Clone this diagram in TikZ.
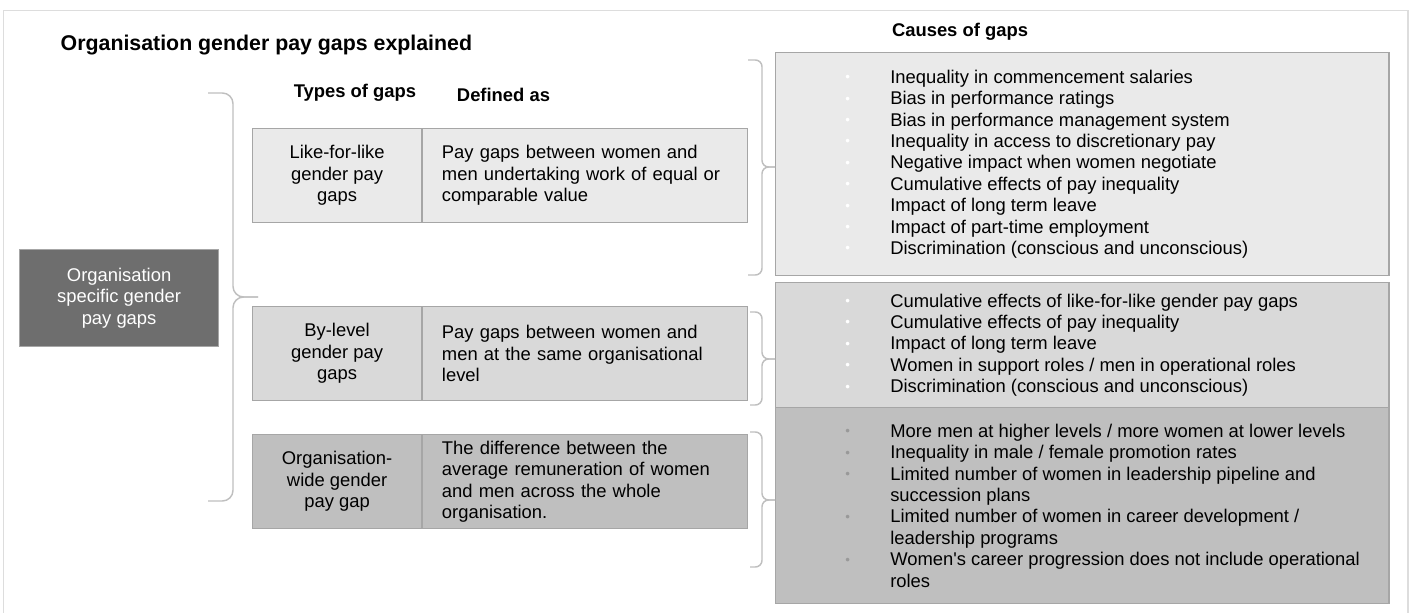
\documentclass[tikz,border=0pt]{standalone}
\usepackage{fontspec}
\setmainfont{Liberation Sans}[Ligatures=TeXOff]
\usepackage{xcolor}
\usetikzlibrary{positioning}
\definecolor{shadeA}{HTML}{EAEAEA}
\definecolor{shadeB}{HTML}{D9D9D9}
\definecolor{shadeC}{HTML}{BFBFBF}
\definecolor{darkgrey}{HTML}{6E6E6E}
\definecolor{edgegrey}{HTML}{A6A6A6}
\definecolor{bracegrey}{HTML}{BFBFBF}
\definecolor{framegrey}{HTML}{DDDDDD}
\definecolor{dotgrey}{HTML}{999999}
% bullet line and wrapped continuation line of a cause list
\newcommand{\cause}[2]{\makebox[33.75pt][l]{\raisebox{1.2pt}{\textcolor{#1}{\fontsize{10}{10}\selectfont\textbullet}}}#2}
\newcommand{\causecont}[1]{\hspace*{33.75pt}#1}

\begin{document}
\begin{tikzpicture}[
        x=0.75pt, y=-0.75pt,
        base/.style={rectangle, draw=edgegrey, line width=0.9pt, inner sep=0pt, font=\fontsize{13.8}{16.05}\selectfont},
        typebox/.style={base, minimum width=126.75pt, minimum height=70.5pt, align=center},
        defbox/.style={base, minimum width=243.75pt, minimum height=70.5pt, text width=215pt, inner xsep=14.25pt, align=left},
        causebox/.style={rectangle, draw=edgegrey, line width=0.9pt, minimum width=460.1pt, anchor=north west},
        causelist/.style={inner sep=0pt, align=left, anchor=west, font=\fontsize{13.8}{16.05}\selectfont},
        heading/.style={font=\bfseries\fontsize{13.8}{16}\selectfont},
        bracket/.style={draw=bracegrey, line width=1.1pt, rounded corners=6pt}
    ]
        \useasboundingbox (0,0) rectangle (1409,613);
        \draw[framegrey, line width=1.1pt] (3.5,613) |- (1408,10.5) -- (1408,613);

        \node[anchor=west, font=\bfseries\fontsize{16}{19}\selectfont] (title) at (56,45) {Organisation gender pay gaps explained};
        \node[heading] (typehead) at (355,93) {Types of gaps};
        \node[heading] (defhead) at (503.5,95) {Defined as};
        \node[heading] (causehead) at (960,32) {Causes of gaps};

        \node[base, fill=darkgrey, text=white, minimum width=149.25pt, minimum height=72.75pt, align=center, anchor=north west] (orgbox) at (19,249) {Organisation\\specific gender\\pay gaps};

        \node[typebox, fill=shadeA, anchor=north west] (like) at (252,128) {Like-for-like\\gender pay\\gaps};
        \node[defbox, fill=shadeA, right=0pt of like] (likedef) {Pay gaps between women and\\men undertaking work of equal or\\comparable value};
        \node[typebox, fill=shadeB, anchor=north west] (level) at (252,306) {By-level\\gender pay\\gaps};
        \node[defbox, fill=shadeB, right=0pt of level] (leveldef) {Pay gaps between women and\\men at the same organisational\\level};
        \node[typebox, fill=shadeC, anchor=north west] (wide) at (252,434) {Organisation-\\wide gender\\pay gap};
        \node[defbox, fill=shadeC, right=0pt of wide] (widedef) {The difference between the\\average remuneration of women\\and men across the whole\\organisation.};

        \node[causebox, fill=shadeA, minimum height=167.25pt] (causeA) at (775,52) {};
        \node[causebox, fill=shadeB, minimum height=93.75pt] (causeB) at (775,282) {};
        \node[causebox, fill=shadeC, minimum height=147pt] (causeC) at (775,407) {};

        \node[causelist] (listA) at ([xshift=52.5pt]causeA.west) {%
            \cause{white}{Inequality in commencement salaries}\\
            \cause{white}{Bias in performance ratings}\\
            \cause{white}{Bias in performance management system}\\
            \cause{white}{Inequality in access to discretionary pay}\\
            \cause{white}{Negative impact when women negotiate}\\
            \cause{white}{Cumulative effects of pay inequality}\\
            \cause{white}{Impact of long term leave}\\
            \cause{white}{Impact of part-time employment}\\
            \cause{white}{Discrimination (conscious and unconscious)}};
        \node[causelist] (listB) at ([xshift=52.5pt]causeB.west) {%
            \cause{white}{Cumulative effects of like-for-like gender pay gaps}\\
            \cause{white}{Cumulative effects of pay inequality}\\
            \cause{white}{Impact of long term leave}\\
            \cause{white}{Women in support roles / men in operational roles}\\
            \cause{white}{Discrimination (conscious and unconscious)}};
        \node[causelist] (listC) at ([xshift=52.5pt]causeC.west) {%
            \cause{dotgrey}{More men at higher levels / more women at lower levels}\\
            \cause{dotgrey}{Inequality in male / female promotion rates}\\
            \cause{dotgrey}{Limited number of women in leadership pipeline and}\\
            \causecont{succession plans}\\
            \cause{dotgrey}{Limited number of women in career development /}\\
            \causecont{leadership programs}\\
            \cause{dotgrey}{Women's career progression does not include operational}\\
            \causecont{roles}};

        % brackets
        \draw[bracket, rounded corners=8pt] (208,93) -| (233,297) -- (258,297);
        \draw[bracket, rounded corners=8pt] (258,297) -| (233,501) -- (208,501);
        \draw[bracket, rounded corners=5pt] (748,60) -| (762,167) -- (775,167);
        \draw[bracket, rounded corners=5pt] (775,167) -| (762,275) -- (748,275);
        \draw[bracket, rounded corners=5pt] (750,312) -| (762,359) -- (775,359);
        \draw[bracket, rounded corners=5pt] (775,359) -| (762,405) -- (750,405);
        \draw[bracket, rounded corners=5pt] (750,432) -| (762,500) -- (775,500);
        \draw[bracket, rounded corners=5pt] (775,500) -| (762,567) -- (750,567);
    \end{tikzpicture}
\end{document}
